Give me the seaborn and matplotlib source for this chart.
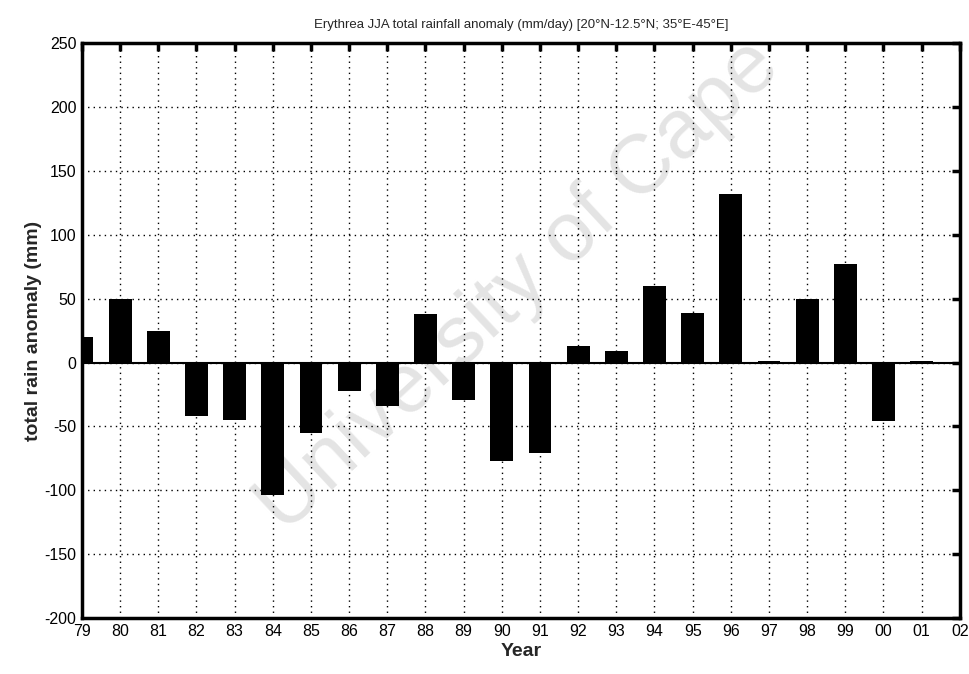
import matplotlib
matplotlib.use("Agg")
import matplotlib.pyplot as plt
import seaborn as sns
import pandas as pd

years = ["79", "80", "81", "82", "83", "84", "85", "86", "87", "88", "89", "90",
         "91", "92", "93", "94", "95", "96", "97", "98", "99", "00", "01"]
anomaly = [20, 50, 25, -42, -45, -104, -55, -22, -34, 38, -29, -77,
           -71, 13, 9, 60, 39, 132, 1, 50, 77, -46, 1]
tick_labels = years + ["02"]
y_ticks = [-200, -150, -100, -50, 0, 50, 100, 150, 200, 250]

sns.set_style("white")
plt.rcParams["font.family"] = ["Liberation Sans", "DejaVu Sans"]

df = pd.DataFrame({"year": years, "anomaly": anomaly})

fig = plt.figure(figsize=(9.7, 6.74), dpi=100)
ax = fig.add_axes([0.0845, 0.083, 0.905, 0.853])

sns.barplot(data=df, x="year", y="anomaly", order=tick_labels, color="black",
            width=0.6, saturation=1, edgecolor="none", ax=ax, zorder=3)

ax.set_xlim(0, len(tick_labels) - 1)
ax.set_ylim(-200, 250)
ax.set_xticks(range(len(tick_labels)))
ax.set_xticklabels(tick_labels, fontsize=11.5)
ax.set_yticks(y_ticks)
ax.set_yticklabels([str(v) for v in y_ticks], fontsize=11.5)

ax.grid(True, linestyle=(0, (1, 3)), color="black", linewidth=1.0, zorder=1)
ax.set_axisbelow(True)
ax.axhline(0, color="black", linewidth=1.5, zorder=4)

for s in ax.spines.values():
    s.set_visible(True)
    s.set_linewidth(2.5)
    s.set_color("black")
ax.tick_params(direction="in", length=6, width=2.5, top=True, right=True,
               colors="black", pad=4)

ax.set_xlabel("Year", fontsize=14, fontweight="bold", labelpad=3)
ax.set_ylabel("total rain anomaly (mm)", fontsize=14, fontweight="bold", labelpad=2)
ax.set_title("Erythrea JJA total rainfall anomaly (mm/day) [20°N-12.5°N; 35°E-45°E]",
             fontsize=9.5, pad=11)

# faint diagonal watermark behind the bars
ax.text(0.535, 0.575, "University of Cape", transform=fig.transFigure,
        fontsize=60, color="#e4e4e4", rotation=43, ha="center", va="center",
        zorder=0.5, clip_on=False)

fig.savefig("out.png", dpi=100)
